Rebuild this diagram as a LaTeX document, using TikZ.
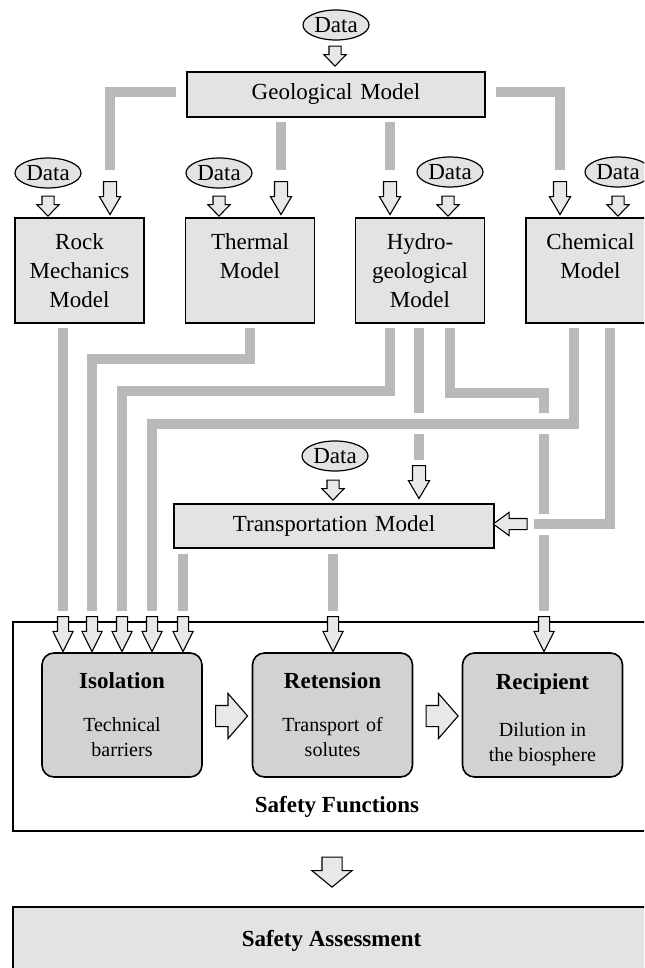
\documentclass[tikz,border=0pt]{standalone}
\usepackage{fontspec}
\setmainfont{Liberation Serif}
\usetikzlibrary{shapes.geometric,shapes.arrows,calc}

\tikzset{
  modelbox/.style={draw, line width=0.8pt, fill=gray!22, minimum width=64.5pt, minimum height=52.5pt,
    text width=62pt, align=center, inner sep=0pt, font=\fontsize{11.5}{14.5}\selectfont},
  databubble/.style={ellipse, draw, line width=0.6pt, fill=gray!22, inner sep=0pt,
    minimum width=33pt, minimum height=15pt, font=\fontsize{11.5}{13}\selectfont},
  sfbox/.style={draw, line width=0.8pt, fill=gray!35, rounded corners=6pt, minimum width=80pt,
    minimum height=62pt, text width=76pt, align=center, inner sep=0pt, font=\fontsize{10}{12.5}\selectfont},
  feed/.style={draw=gray!55, line width=5pt, preaction={draw=white, line width=10.5pt}},
  hollow/.style={single arrow, draw, line width=0.55pt, fill=gray!18, inner xsep=0pt, minimum width=0pt},
  feedtip/.style={hollow, rotate=-90, minimum height=16.5pt, inner ysep=3pt,
    single arrow head extend=2pt, single arrow tip angle=61},
  datatip/.style={hollow, rotate=-90, minimum height=10pt, inner ysep=2.75pt,
    single arrow head extend=2.5pt, single arrow tip angle=88},
  intip/.style={hollow, rotate=-90, minimum height=17.5pt, inner ysep=2.5pt,
    single arrow head extend=2.25pt, single arrow tip angle=53},
  sidetip/.style={hollow, rotate=180, minimum height=17pt, inner ysep=2.5pt,
    single arrow head extend=3pt, single arrow tip angle=72},
  flowtip/.style={hollow, minimum height=16pt, inner ysep=5pt,
    single arrow head extend=6pt, single arrow tip angle=98},
  resulttip/.style={hollow, rotate=-90, minimum height=15pt, inner ysep=4.75pt,
    single arrow head extend=5pt, single arrow tip angle=101},
  headfont/.style={font=\fontsize{11.5}{14}\selectfont\bfseries}
}

\begin{document}
\begin{tikzpicture}[x=0.5pt, y=-0.5pt]
\path[use as bounding box, fill=white] (0,0) rectangle (644,968);
\clip (0,0) rectangle (644,968);

% models
\node[databubble] (d0) at (336,25) {Data};
\node[modelbox, minimum width=149pt, minimum height=22.5pt, text width=140pt] (geo) at (336,94.5) {Geological Model};

\node[databubble] (d1) at (48,173) {Data};
\node[databubble] (d2) at (219,173) {Data};
\node[databubble] (d3) at (450,172) {Data};
\node[databubble] (d4) at (618,172) {Data};

\node[modelbox] (rock) at (79.5,270.5) {Rock\\Mechanics\\Model};
\node[modelbox] (thermal) at (250,270.5) {Thermal\\Model\\\mbox{}};
\node[modelbox] (hydro) at (420,270.5) {Hydro-\\geological\\Model};
\node[modelbox] (chem) at (590.5,270.5) {Chemical\\Model\\\mbox{}};

\node[databubble] (d5) at (335,456) {Data};
\node[modelbox, minimum width=160pt, minimum height=22pt, text width=150pt] (trans) at (334,526) {Transportation Model};

% safety functions
\node[draw, line width=0.8pt, minimum width=318.5pt, minimum height=104.5pt] (frame) at (331.5,726.5) {};
\node[sfbox] (iso) at (122,715) {{\fontsize{11.5}{14}\selectfont\bfseries Isolation}\\[9pt]Technical\\barriers};
\node[sfbox] (ret) at (332.5,715) {{\fontsize{11.5}{14}\selectfont\bfseries Retension}\\[9pt]Transport of\\solutes};
\node[sfbox, minimum height=62pt] (rec) at (542.5,715) {};
\node[font=\fontsize{10}{12.5}\selectfont, align=center, anchor=north] (rectext) at ($(rec.north)+(0,14)$) {{\fontsize{11.5}{14}\selectfont\bfseries Recipient}\\[11pt]Dilution in\\the biosphere};
\node[headfont] (sflabel) at (337,807) {Safety Functions};
\node[draw, line width=0.8pt, fill=gray!22, minimum width=318.5pt, minimum height=34pt, headfont] (sa) at (331.5,941) {Safety Assessment};

% block arrows
\node[datatip] (a0) at (335,53) {};
\node[feedtip] (g1) at (110,192.5) {};
\node[feedtip] (g2) at (281,192.5) {};
\node[feedtip] (g3) at (390,192.5) {};
\node[feedtip] (g4) at (560,192.5) {};
\node[datatip] (a1) at (48,203) {};
\node[datatip] (a2) at (219,203) {};
\node[datatip] (a3) at (448,203) {};
\node[datatip] (a4) at (618,203) {};
\node[datatip] (a5) at (333,487) {};
\node[feedtip] (t1) at (419,476.5) {};
\node[sidetip] (t2) at (514,524) {};
\foreach \n/\x in {1/63,2/92,3/122,4/152,5/183,6/333,7/544}
  \node[intip] (i\n) at (\x,628.5) {};
\node[flowtip] (f1) at (227,716) {};
\node[flowtip] (f2) at (437.5,716) {};
\node[resulttip] (r1) at (332,868) {};

% grey feeds
\draw[feed, shorten >=5.5pt] ($(geo.west)+(-10,-2.5)$) -| (g1.tail);
\draw[feed, shorten >=5.5pt] ($(geo.south)+(-55,4)$) -- (g2.tail);
\draw[feed, shorten >=5.5pt] ($(geo.south)+(54,4)$) -- (g3.tail);
\draw[feed, shorten >=5.5pt] ($(geo.east)+(10,-2.5)$) -| (g4.tail);

\draw[feed, shorten >=2.5pt] ($(rock.south)+(-16.5,4)$) -- (i1.tail);
\draw[feed, shorten >=2.5pt] ($(thermal.south)+(0,4)$) -- ++(0,31) -| (i2.tail);
\draw[feed, shorten >=2.5pt] ($(hydro.south)+(-30,4)$) -- ++(0,63) -| (i3.tail);
\draw[feed, shorten >=2.5pt] ($(hydro.south)+(30,4)$) -- ++(0,65) -| (i7.tail);
\draw[feed, shorten >=2.5pt] ($(hydro.south)+(-1,4)$) -- (t1.tail);
\draw[feed, shorten >=2.5pt] ($(chem.south)+(-16.5,4)$) -- ++(0,96) -| (i4.tail);
\draw[feed, shorten >=3pt] ($(chem.south)+(19.5,4)$) |- (t2.tail);
\draw[feed, shorten >=2.5pt] ($(trans.south)+(-151,5)$) -- (i5.tail);
\draw[feed, shorten >=2.5pt] ($(trans.south)+(-1,5)$) -- (i6.tail);
\end{tikzpicture}
\end{document}
